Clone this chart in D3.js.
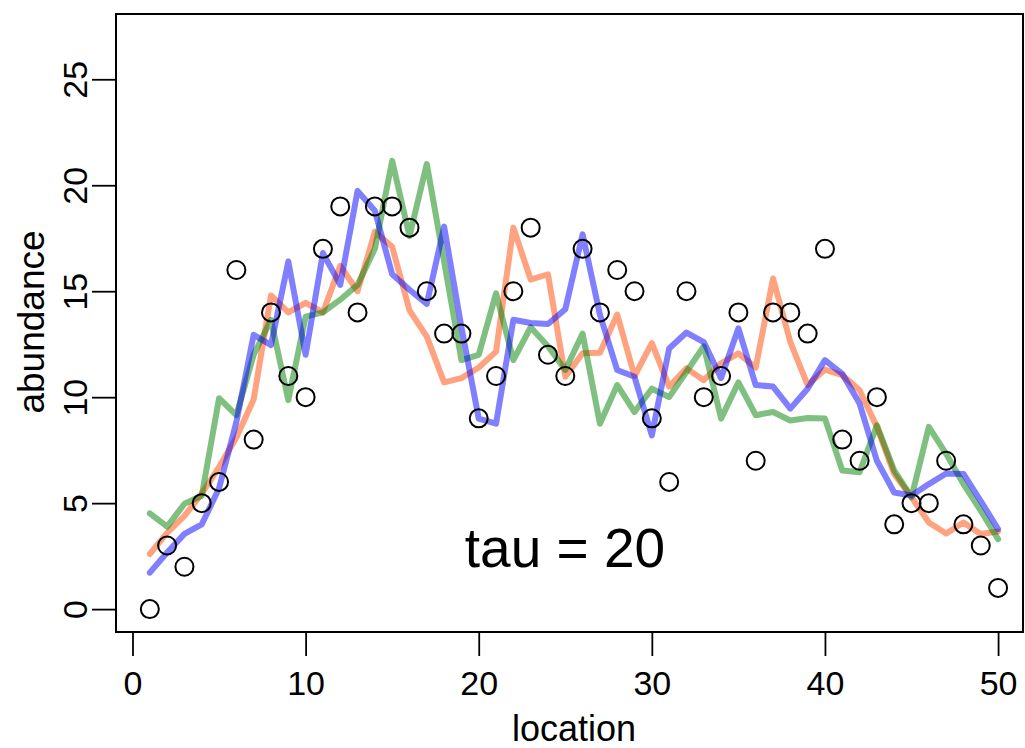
<!DOCTYPE html>
<html>
<head>
<meta charset="utf-8">
<script src="https://cdn.jsdelivr.net/npm/d3@7"></script>
<style>
html,body{margin:0;padding:0;background:#fff;}
svg text{font-family:"Liberation Sans",Arial,Helvetica,sans-serif;fill:#000;}
</style>
</head>
<body>
<svg id="chart" width="1025" height="748"></svg>
<script>
// ---- data ----
const locations = d3.range(1, 51);
const observed = [0,3,2,5,6,16,8,14,11,10,17,19,14,19,19,18,15,13,13,9,
                  11,15,18,12,11,17,14,16,15,9,6,15,10,11,14,7,14,14,13,17,
                  8,7,10,4,5,5,7,4,3,1];
const fitOrange = [2.6,3.6,4.4,5.45,6.7,8.1,9.9,14.8,14.0,14.45,
                   14.0,16.2,15.0,17.8,17.1,14.1,12.86,10.7,10.9,11.4,
                   12.15,18.0,15.55,15.8,10.96,12.07,12.1,13.9,11.0,12.55,
                   10.5,11.36,10.8,11.6,12.07,11.4,15.6,12.6,10.57,11.3,
                   11.04,10.33,8.6,6.38,5.28,4.09,3.57,4.09,3.54,3.66];
const fitGreen = [4.52,3.89,4.97,5.35,9.95,9.15,12.0,13.65,9.86,13.8,
                  14.0,14.6,15.3,17.0,21.15,17.6,21.0,16.4,11.75,12.0,
                  14.9,11.75,13.3,12.4,11.28,13.0,8.75,10.57,9.3,10.4,
                  10.0,11.2,12.4,8.99,10.7,9.15,9.3,8.9,9.02,8.99,
                  6.54,6.46,8.67,6.54,5.28,8.6,7.33,5.9,4.64,3.3];
const fitBlue = [1.72,2.67,3.55,4.0,5.7,8.83,12.94,12.46,16.4,12.0,
                 16.8,15.3,19.73,18.8,15.8,15.07,14.4,18.05,13.3,8.99,
                 8.75,13.65,13.5,13.45,14.15,17.68,13.9,11.28,10.96,8.2,
                 12.3,13.05,12.6,10.9,13.25,10.57,10.5,9.46,10.4,11.75,
                 11.1,9.7,7.0,5.5,5.36,5.9,6.4,6.38,5.1,3.78];
const xTicks = [0,10,20,30,40,50];
const yTicks = [0,5,10,15,20,25];
const xLabel = "location";
const yLabel = "abundance";
const annotation = "tau = 20";

// ---- layout ----
const svg = d3.select("#chart");
const L = 116, R = 1023, T = 14, B = 632;
const x = d3.scaleLinear().domain([-0.953, 51.44]).range([L, R]);
const y = d3.scaleLinear().domain([-1.08, 28.08]).range([B, T]);

// lines
const series = [
  {vals: fitOrange, color: "rgba(255,69,0,0.5)"},
  {vals: fitGreen,  color: "rgba(0,128,0,0.5)"},
  {vals: fitBlue,   color: "rgba(0,0,255,0.5)"}
];
const line = d3.line().x((d,i)=>x(locations[i])).y(d=>y(d));
series.forEach(s=>{
  svg.append("path").attr("d", line(s.vals))
    .attr("fill","none").attr("stroke", s.color)
    .attr("stroke-width", 6).attr("stroke-linejoin","round").attr("stroke-linecap","round");
});

// points
svg.append("g").selectAll("circle").data(observed).join("circle")
  .attr("cx",(d,i)=>x(locations[i])).attr("cy",d=>y(d)).attr("r",9)
  .attr("fill","none").attr("stroke","#000").attr("stroke-width",2);

// box
svg.append("rect").attr("x",L).attr("y",T).attr("width",R-L).attr("height",B-T)
  .attr("fill","none").attr("stroke","#000").attr("stroke-width",2);

// x axis
const xAxis = d3.axisBottom(x).tickValues(xTicks).tickSize(24).tickPadding(15).tickFormat(d3.format("d"));
const gx = svg.append("g").attr("transform",`translate(0,${B})`).call(xAxis);
gx.select(".domain").attr("d",`M${x(0)},0H${x(50)}`).attr("stroke","#000").attr("stroke-width",1.5);
gx.selectAll(".tick line").attr("stroke","#000").attr("stroke-width",1.8);
gx.selectAll(".tick text").attr("font-size",34).attr("font-family","Liberation Sans, Arial, sans-serif").attr("fill","#000");

// y axis
const yAxis = d3.axisLeft(y).tickValues(yTicks).tickSize(24).tickPadding(0).tickFormat(d3.format("d"));
const gy = svg.append("g").attr("transform",`translate(${L},0)`).call(yAxis);
gy.select(".domain").attr("d",`M0,${y(0)}V${y(25)}`).attr("stroke","#000").attr("stroke-width",1.5);
gy.selectAll(".tick line").attr("stroke","#000").attr("stroke-width",1.8);
gy.selectAll(".tick text")
  .attr("font-size",34).attr("font-family","Liberation Sans, Arial, sans-serif").attr("fill","#000")
  .attr("x",null)
  .attr("text-anchor","middle")
  .attr("transform","translate(-29,0) rotate(-90)")
  .attr("dy","0em");

// axis titles
svg.append("text").attr("x",574).attr("y",741).attr("text-anchor","middle")
  .attr("font-size",36).text(xLabel);
svg.append("text").attr("transform",`translate(44,322) rotate(-90)`).attr("text-anchor","middle")
  .attr("font-size",37).text(yLabel);

// annotation
svg.append("text").attr("x",565).attr("y",567).attr("text-anchor","middle")
  .attr("font-size",55).text(annotation);
</script>
</body>
</html>
